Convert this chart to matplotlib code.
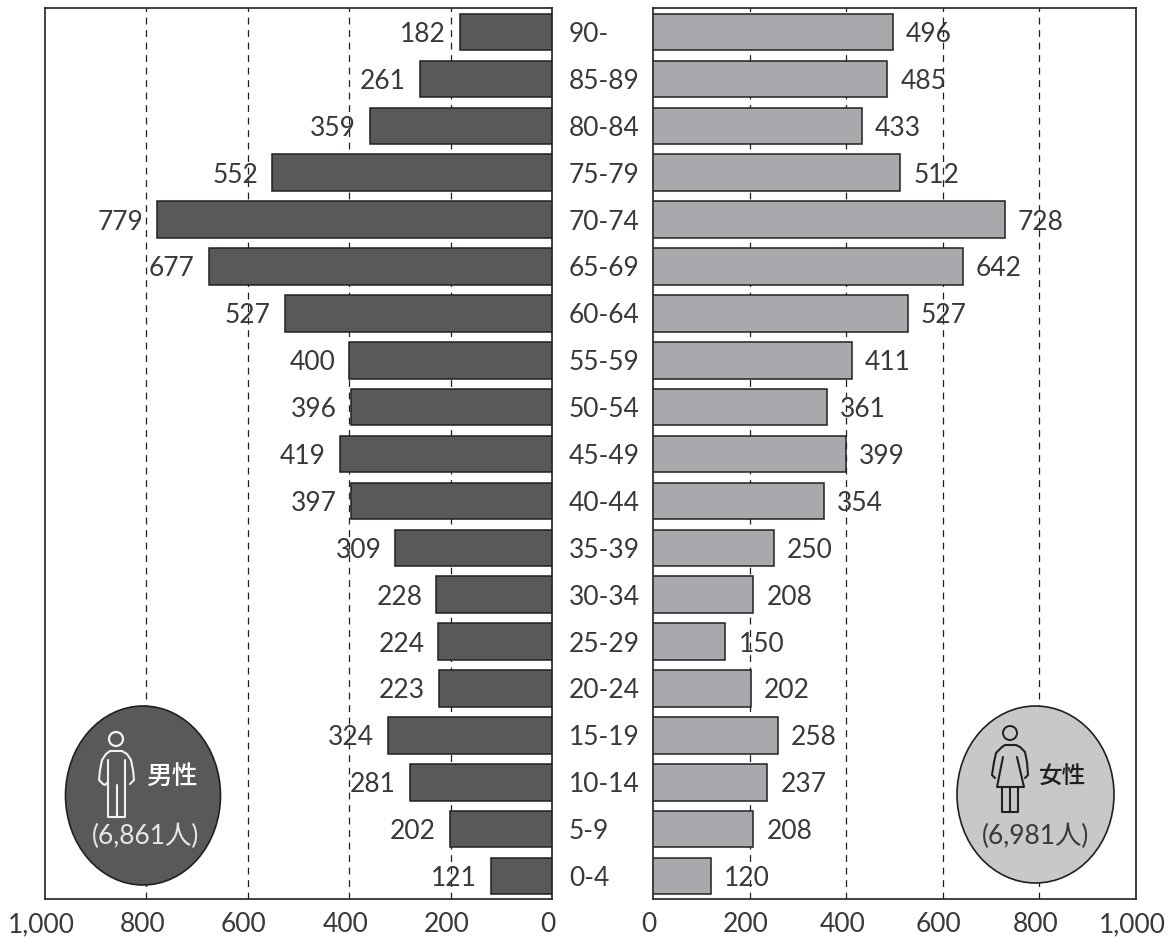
import matplotlib
matplotlib.use('Agg')
import matplotlib.pyplot as plt
from matplotlib.patches import Ellipse, Circle
from matplotlib.transforms import ScaledTranslation

plt.rcParams['font.family'] = ['Lato', 'Noto Sans CJK JP', 'DejaVu Sans']

ages = ['90-', '85-89', '80-84', '75-79', '70-74', '65-69', '60-64', '55-59', '50-54', '45-49',
        '40-44', '35-39', '30-34', '25-29', '20-24', '15-19', '10-14', '5-9', '0-4']
male = [182, 261, 359, 552, 779, 677, 527, 400, 396, 419, 397, 309, 228, 224, 223, 324, 281, 202, 121]
female = [496, 485, 433, 512, 728, 642, 527, 411, 361, 399, 354, 250, 208, 150, 202, 258, 237, 208, 120]
ticks = [0, 200, 400, 600, 800, 1000]
tick_labels = ['0', '200', '400', '600', '800', '1,000']

W, H = 1171, 938
DARK = '#58595b'
MID = '#a7a9ac'
LIGHT = '#c7c8ca'
INK = '#231f20'
TEXT = '#3a3839'
FS = 19


def px(n):
    # pixels to points at dpi 100
    return n * 0.72


def panel(left, right, values, color, flip):
    ax = fig.add_axes([left / W, 1 - 899 / H, (right - left) / W, 891 / H])
    y = list(range(len(values)))
    ax.barh(y, values, height=0.78, color=color, edgecolor=INK, linewidth=1.1, zorder=3)
    ax.set_ylim(18.49, -0.512)
    ax.set_xlim(1000, 0) if flip else ax.set_xlim(0, 1000)
    ax.set_yticks([])
    ax.set_xticks(ticks)
    ax.set_xticklabels(tick_labels, fontsize=FS, color=TEXT)
    ax.tick_params(axis='x', length=0, pad=9.5)
    # tick labels sit slightly left of their gridlines
    shift = ScaledTranslation(-4 / 100, 0, fig.dpi_scale_trans)
    for lab in ax.get_xticklabels():
        lab.set_transform(lab.get_transform() + shift)
    for t in ticks[1:-1]:
        ax.axvline(t, color=INK, lw=0.9, dashes=(5.5, 4.5), zorder=1)
    for s in ax.spines.values():
        s.set_color(INK)
        s.set_linewidth(1.2)
    for i, v in enumerate(values):
        ax.annotate(str(v), xy=(v, i), xytext=(px(-14) if flip else px(13), 0),
                    textcoords='offset points', va='center_baseline',
                    ha='right' if flip else 'left', fontsize=FS, color=TEXT, zorder=4)
    return ax


fig = plt.figure(figsize=(W / 100, H / 100), dpi=100, facecolor='white')
ax_m = panel(45, 552, male, DARK, True)
ax_f = panel(653, 1136, female, MID, False)

# age classes between the two panels
for i, a in enumerate(ages):
    ax_f.annotate(a, xy=(0, i), xycoords=ax_f.get_yaxis_transform(), xytext=(px(-84), 0),
                  textcoords='offset points', va='center_baseline', ha='left', fontsize=FS, color=TEXT)

# overlay in pixel coordinates for the two badges
ov = fig.add_axes([0, 0, 1, 1], facecolor='none')
ov.set_xlim(0, W)
ov.set_ylim(H, 0)
ov.axis('off')

ov.add_patch(Ellipse((143, 795.5), 155, 179, fc=DARK, ec=INK, lw=1.2))
ov.add_patch(Ellipse((1035.5, 794.5), 157, 177, fc=LIGHT, ec=INK, lw=1.2))


def stroke(xs, ys, color):
    ov.plot(xs, ys, color=color, lw=1.5, solid_joinstyle='round', solid_capstyle='round')


# male figure
W_ICON = '#f1f1f2'
ov.add_patch(Circle((116, 739), 7, fc='none', ec=W_ICON, lw=1.6))
stroke([103, 99, 100, 102, 106, 110, 122, 127, 131, 133, 134, 130],
       [784, 780, 770, 760, 754, 751, 751, 754, 760, 770, 780, 784], W_ICON)
stroke([103, 105, 108], [784, 785, 782], W_ICON)
stroke([108, 108, 125, 125], [760, 817, 817, 760], W_ICON)
stroke([116.5, 116.5], [785, 817], W_ICON)

# female figure
ov.add_patch(Circle((1010, 733), 7, fc='none', ec=INK, lw=1.4))
stroke([995, 992, 994, 996, 1002, 1005, 1016, 1020, 1025, 1027, 1028, 1025],
       [778, 775, 762, 753, 747, 745, 745, 747, 752, 762, 775, 778], INK)
stroke([1003, 997, 1024, 1017], [757, 787, 787, 757], INK)
stroke([1002, 1002, 1018, 1018], [787, 812, 812, 787], INK)
stroke([1010, 1010], [787, 812], INK)

jp = ['Noto Sans CJK JP', 'DejaVu Sans']
ov.text(171.5, 776, '男性', family=jp, fontsize=18.5, weight='medium', color='white', ha='center', va='center')
ov.text(1062, 777, '女性', family=jp, fontsize=17, weight='medium', color=INK, ha='center', va='center')
ov.text(146, 836, '(6,861人)', fontsize=19, color='#e6e7e8', ha='center', va='center')
ov.text(1036, 836, '(6,981人)', fontsize=19, color=TEXT, ha='center', va='center')

fig.savefig('out.png', dpi=100)
